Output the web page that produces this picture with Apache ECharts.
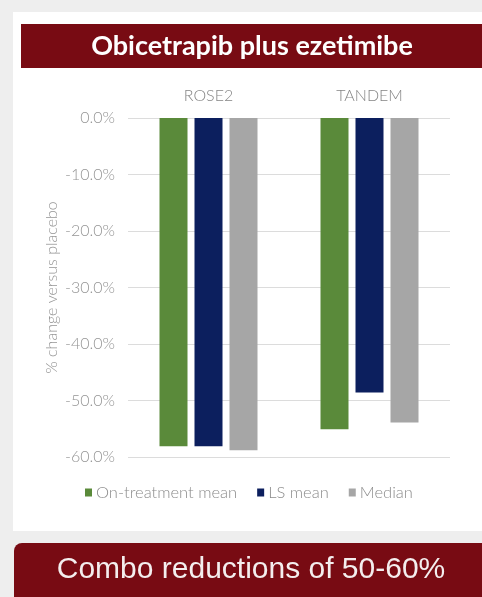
<!DOCTYPE html>
<html><head><meta charset="utf-8">
<script src="https://cdn.jsdelivr.net/npm/echarts@6/dist/echarts.min.js"></script>
<style>html,body{margin:0;padding:0;background:#eeeeee;}#c{width:482px;height:597px;}</style>
</head><body><div id="c"></div>
<script>
const categories = ['ROSE2', 'TANDEM'];
const seriesNames = ['On-treatment mean', 'LS mean', 'Median'];
const onTreatmentMean = [-58.1, -55.1];
const lsMean = [-58.1, -48.6];
const median = [-58.8, -53.9];
const yTicks = [0, -10, -20, -30, -40, -50, -60];
const colors = ['#5a8a3a', '#0c1f5e', '#a6a6a6'];

const chart = echarts.init(document.getElementById('c'), null, {renderer: 'canvas'});
const font = 'Lato, "Open Sans", sans-serif';
chart.setOption({
  backgroundColor: '#eeeeee',
  animation: false,
  graphic: [
    {type: 'rect', left: 13, top: 12, shape: {width: 469, height: 519}, style: {fill: '#ffffff'}, z: -10},
    {type: 'rect', left: 21, top: 24, shape: {width: 461, height: 44}, style: {fill: '#780b13'}, z: -5},
    {type: 'rect', left: 14, top: 543, shape: {width: 480, height: 70, r: 8}, style: {fill: '#780b13'}, z: -5},
    {type: 'text', x: 252, y: 46, style: {text: 'Obicetrapib plus ezetimibe', fill: '#ffffff', font: 'bold 27px Lato, "Open Sans", sans-serif', textAlign: 'center', textVerticalAlign: 'middle'}, z: 5},
    {type: 'text', x: 251, y: 570, style: {text: 'Combo reductions of 50-60%', fill: '#f4eeee', font: '30px "Liberation Sans", Arial, sans-serif', textAlign: 'center', textVerticalAlign: 'middle'}, z: 5}
  ],
  legend: {
    data: seriesNames,
    top: 479,
    left: 80,
    itemWidth: 7, itemHeight: 8, itemGap: 20,
    icon: 'rect',
    textStyle: {color: '#8c8c8c', fontSize: 16.5, fontWeight: 300, fontFamily: font, padding: [0,0,0,-1]}
  },
  grid: {left: 128, right: 32, top: 118, bottom: 140},
  xAxis: {
    type: 'category', position: 'top', data: categories,
    axisLine: {show: false}, axisTick: {show: false},
    axisLabel: {color: '#858585', fontSize: 16, fontWeight: 300, fontFamily: font, margin: 14}
  },
  yAxis: {
    type: 'value', min: -60, max: 0, interval: 10,
    name: '% change versus placebo', nameLocation: 'middle', nameGap: 68, nameRotate: 90,
    nameMoveOverlap: false,
    nameTextStyle: {color: '#959595', fontSize: 16, fontWeight: 300, fontFamily: font},
    axisLine: {show: false}, axisTick: {show: false},
    axisLabel: {color: '#959595', fontSize: 16, fontWeight: 300, fontFamily: font, margin: 13,
      formatter: v => yTicks.includes(v) ? v.toFixed(1) + '%' : ''},
    splitLine: {lineStyle: {color: '#dcdcdc', width: 1}}
  },
  series: [
    {name: seriesNames[0], type: 'bar', data: onTreatmentMean, itemStyle: {color: colors[0]}, barWidth: 28, barGap: '25%', barCategoryGap: '38%'},
    {name: seriesNames[1], type: 'bar', data: lsMean, itemStyle: {color: colors[1]}, barWidth: 28, barGap: '25%'},
    {name: seriesNames[2], type: 'bar', data: median, itemStyle: {color: colors[2]}, barWidth: 28, barGap: '25%'}
  ]
});
</script></body></html>
